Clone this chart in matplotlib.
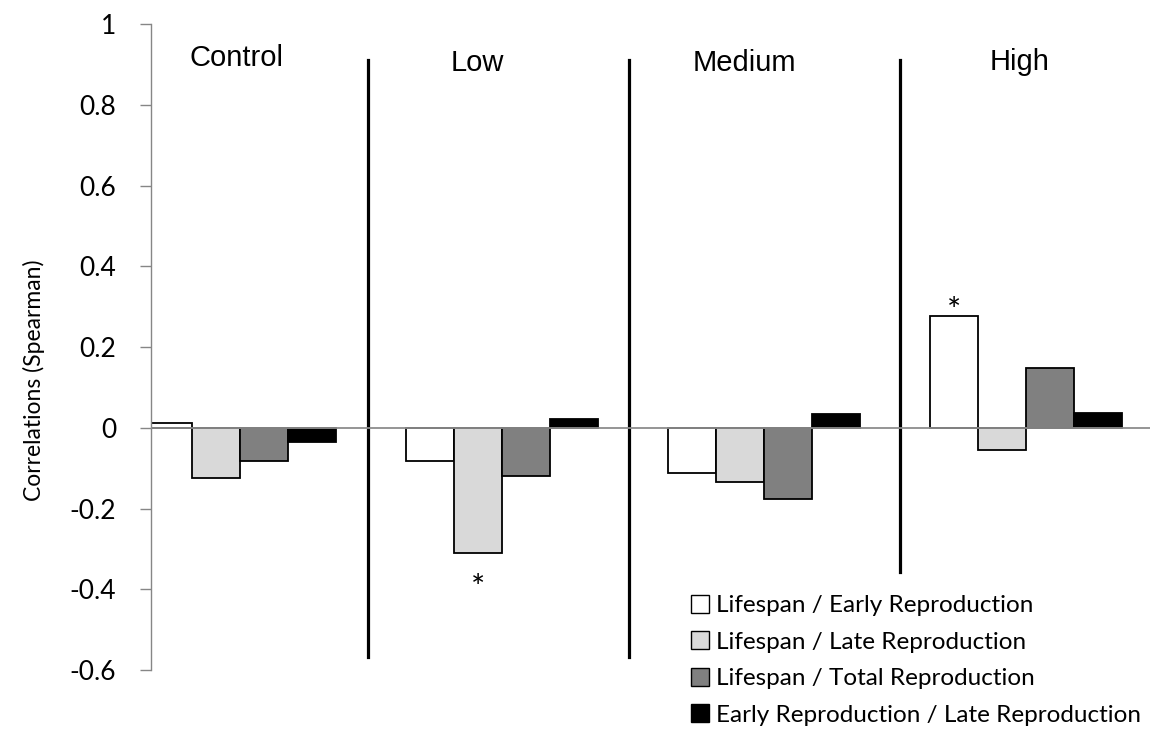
import numpy as np
import matplotlib.pyplot as plt
from matplotlib.patches import Patch

# Spearman correlations per treatment group
groups = ["Control", "Low", "Medium", "High"]
series = [
    "Lifespan / Early Reproduction",
    "Lifespan / Late Reproduction",
    "Lifespan / Total Reproduction",
    "Early Reproduction / Late Reproduction",
]
early = [0.012, -0.082, -0.112, 0.277]
late = [-0.124, -0.309, -0.135, -0.054]
total = [-0.082, -0.120, -0.177, 0.148]
early_late = [-0.034, 0.022, 0.034, 0.037]
colors = ["#ffffff", "#d9d9d9", "#808080", "#000000"]

yticks = [-0.6, -0.4, -0.2, 0, 0.2, 0.4, 0.6, 0.8, 1]
ytick_labels = ["-0.6", "-0.4", "-0.2", "0", "0.2", "0.4", "0.6", "0.8", "1"]

# significant correlations: (group index, series index)
stars = [(1, 1), (3, 0)]

fig = plt.figure(figsize=(11.52, 7.3), dpi=100)
ax = fig.add_axes([0.131, 0.082, 0.867, 0.885])

x = np.arange(len(groups))
w = 0.183
values = [early, late, total, early_late]
for i, vals in enumerate(values):
    ax.bar(x + (i - 1.5) * w, vals, w, color=colors[i], edgecolor="black",
           linewidth=1.3, label=series[i], zorder=2)

ax.axhline(0, color="#8c8c8c", linewidth=1.3, zorder=3)

# group separators
ax.plot([0.49, 0.49], [-0.567, 0.911], color="black", lw=2.3)
ax.plot([1.485, 1.485], [-0.567, 0.911], color="black", lw=2.3)
ax.plot([2.52, 2.52], [-0.356, 0.911], color="black", lw=2.3)

# group headings
head_x = [-0.015, 0.905, 1.927, 2.977]
head_y = [0.915, 0.903, 0.903, 0.906]
for gx, gy, g in zip(head_x, head_y, groups):
    ax.text(gx, gy, g, ha="center", va="center", fontsize=21,
            family="Liberation Sans")

for gi, si in stars:
    v = values[si][gi]
    ypos = v + 0.01 if v > 0 else v - 0.09
    ax.text(x[gi] + (si - 1.5) * w, ypos, "*", ha="center", va="center",
            fontsize=24, family="Lato")

ax.set_xlim(-0.34, 3.473)
ax.set_ylim(-0.6, 1)
ax.set_xticks([])
ax.set_yticks(yticks)
ax.set_yticklabels(ytick_labels, family="Lato", fontsize=19)
ax.tick_params(axis="y", direction="out", length=8, width=1,
               color="#868686", pad=17)
for s in ["top", "right", "bottom"]:
    ax.spines[s].set_visible(False)
ax.spines["left"].set_color("#868686")
ax.spines["left"].set_linewidth(1)

ax.set_ylabel("Correlations (Spearman)", family="Lato", fontsize=16.5)
ax.yaxis.set_label_coords(-0.106, 0.449)

handles = [Patch(facecolor=c, edgecolor="black", linewidth=1) for c in colors]
fig.legend(handles, series, loc="upper left", bbox_to_anchor=(0.6, 0.185),
           frameon=False, prop={"family": "Lato", "size": 17.5},
           handlelength=0.75, handleheight=0.75, handletextpad=0.25,
           labelspacing=0.62, borderpad=0, borderaxespad=0)

fig.savefig("out.png", dpi=100)
